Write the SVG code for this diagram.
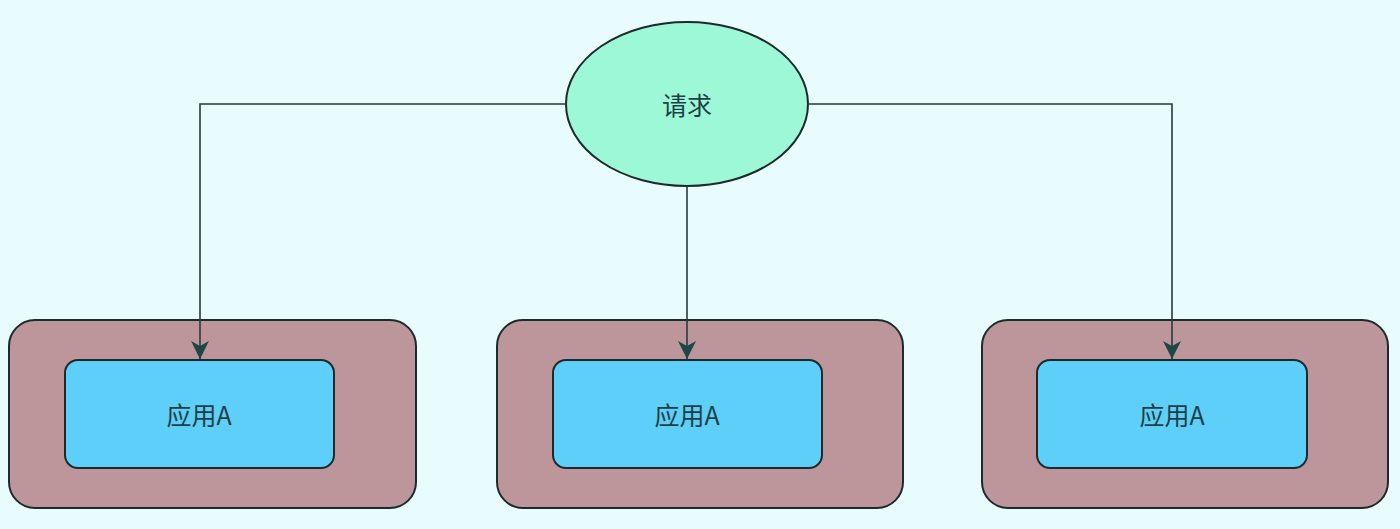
<svg xmlns="http://www.w3.org/2000/svg" width="1400" height="529" viewBox="0 0 1400 529">
<style>
.bg{fill:#e8fbfd}
.outer{fill:#bc969b;stroke:#1e2a2a;stroke-width:2}
.inner{fill:#5dcff9;stroke:#1e2a2a;stroke-width:2}
.ell{fill:#9df8d8;stroke:#1e2a2a;stroke-width:2}
.lbl{font-family:"Noto Sans CJK SC","Noto Sans",sans-serif;font-size:25px;fill:#1f3f44;text-anchor:middle;dominant-baseline:central}
.conn{fill:none;stroke:#2a3a3a;stroke-width:1.6}
</style>
<defs>
<marker id="arr" markerWidth="20" markerHeight="20" refX="18" refY="10" orient="auto" markerUnits="userSpaceOnUse" viewBox="0 0 20 20">
<path d="M0,1 L18,10 L0,19 L5,10 Z" fill="#1f4646"/>
</marker>
</defs>
<rect class="bg" x="0" y="0" width="1400" height="529"/>
<g id="request">
<ellipse class="ell" cx="687" cy="104" rx="121" ry="82"/>
<text class="lbl" x="687" y="104">请求</text>
</g>
<g id="host1">
<rect class="outer" x="9" y="320" width="407" height="188" rx="26"/>
<g id="app1">
<rect class="inner" x="65" y="360" width="269" height="108" rx="13"/>
<text class="lbl" x="199" y="414">应用A</text>
</g>
</g>
<g id="host2">
<rect class="outer" x="497" y="320" width="406" height="188" rx="26"/>
<g id="app2">
<rect class="inner" x="553" y="360" width="269" height="108" rx="13"/>
<text class="lbl" x="687" y="414">应用A</text>
</g>
</g>
<g id="host3">
<rect class="outer" x="982" y="320" width="406" height="188" rx="26"/>
<g id="app3">
<rect class="inner" x="1037" y="360" width="270" height="108" rx="13"/>
<text class="lbl" x="1172" y="414">应用A</text>
</g>
</g>
<g id="connectors">
<path class="conn" d="M566,104 H200 V359" marker-end="url(#arr)"/>
<path class="conn" d="M687,186 V359" marker-end="url(#arr)"/>
<path class="conn" d="M808,104 H1172 V359" marker-end="url(#arr)"/>
</g>
</svg>
